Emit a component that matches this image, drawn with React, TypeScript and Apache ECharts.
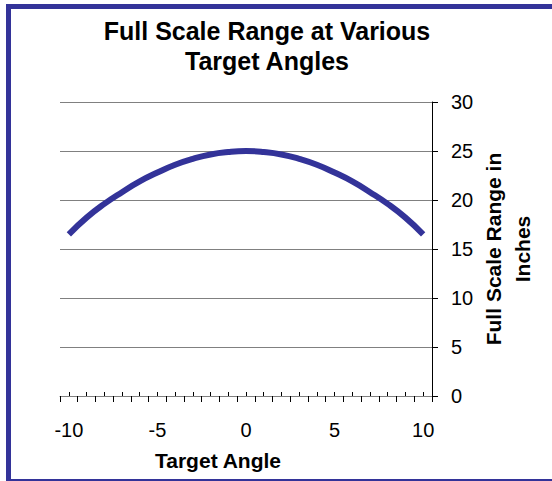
import React, { useEffect, useRef } from "react";
import * as echarts from "echarts";

const categories: string[] = ["-10","-9","-8","-7","-6","-5","-4","-3","-2","-1","0","1","2","3","4","5","6","7","8","9","10"];
const rangeValues: number[] = [16.5, 18.2, 19.6, 20.8, 21.9, 22.8, 23.6, 24.2, 24.65, 24.9, 25.0, 24.9, 24.65, 24.2, 23.6, 22.8, 21.9, 20.8, 19.6, 18.2, 16.5];
const titleLines: string[] = ["Full Scale Range at Various", "Target Angles"];
const xTitle = "Target Angle";
const yTitleLines: string[] = ["Full Scale Range in", "Inches"];

const FONT = "'Liberation Sans', Arial, Helvetica, sans-serif";
const BLUE = "#333399";

export default function App() {
  const ref = useRef<HTMLDivElement>(null);
  useEffect(() => {
    document.body.style.margin = "0";
    if (!ref.current) return;
    const chart = echarts.init(ref.current, undefined, { renderer: "svg" });
    chart.setOption({
      animation: false,
      backgroundColor: "#ffffff",
      grid: { left: 60, right: 120, top: 102, bottom: 85, containLabel: false, outerBoundsMode: "none" },
      xAxis: [
        {
          type: "category",
          data: categories,
          boundaryGap: true,
          position: "bottom",
          axisLine: { show: true, lineStyle: { color: "#808080", width: 1 } },
          axisTick: { show: true, interval: 0, alignWithLabel: false, inside: false, length: 6, lineStyle: { color: "#000000", width: 1 } },
          axisLabel: { interval: 4, fontSize: 20, color: "#000000", margin: 24, fontFamily: FONT },
          splitLine: { show: false },
        },
        {
          type: "category",
          data: categories,
          boundaryGap: true,
          position: "bottom",
          axisLine: { show: false },
          axisTick: { show: true, interval: 0, alignWithLabel: true, inside: true, length: 4, lineStyle: { color: "#000000", width: 1 } },
          axisLabel: { show: false },
          splitLine: { show: false },
        },
      ],
      yAxis: {
        type: "value",
        position: "right",
        min: 0,
        max: 30,
        interval: 5,
        axisLine: { show: true, lineStyle: { color: "#000000", width: 1 } },
        axisTick: { show: true, inside: false, length: 6, lineStyle: { color: "#000000", width: 1 } },
        axisLabel: { fontSize: 20, color: "#000000", margin: 19, fontFamily: FONT },
        splitLine: { show: true, lineStyle: { color: "#808080", width: 1 } },
      },
      series: [
        {
          type: "line",
          data: rangeValues,
          xAxisIndex: 0,
          smooth: true,
          symbol: "none",
          lineStyle: { color: BLUE, width: 6, cap: "butt" },
          itemStyle: { color: BLUE },
        },
      ],
      graphic: [
        {
          type: "rect",
          silent: true,
          shape: { x: 8.5, y: 6.5, width: 600, height: 475 },
          style: { fill: "none", stroke: BLUE, lineWidth: 5 },
        },
        {
          type: "text",
          x: 267,
          y: 31,
          style: { text: titleLines[0], font: `bold 25px ${FONT}`, fill: "#000", align: "center", verticalAlign: "middle" },
        },
        {
          type: "text",
          x: 267,
          y: 61,
          style: { text: titleLines[1], font: `bold 25px ${FONT}`, fill: "#000", align: "center", verticalAlign: "middle" },
        },
        {
          type: "text",
          x: 218,
          y: 460,
          style: { text: xTitle, font: `bold 21px ${FONT}`, fill: "#000", align: "center", verticalAlign: "middle" },
        },
        {
          type: "text",
          x: 493,
          y: 249,
          rotation: Math.PI / 2,
          style: { text: yTitleLines[0], font: `bold 21px ${FONT}`, fill: "#000", align: "center", verticalAlign: "middle" },
        },
        {
          type: "text",
          x: 522,
          y: 249,
          rotation: Math.PI / 2,
          style: { text: yTitleLines[1], font: `bold 21px ${FONT}`, fill: "#000", align: "center", verticalAlign: "middle" },
        },
      ],
    });
    return () => chart.dispose();
  }, []);
  return <div ref={ref} style={{ position: "absolute", left: 0, top: 0, width: 552, height: 481 }} />;
}
